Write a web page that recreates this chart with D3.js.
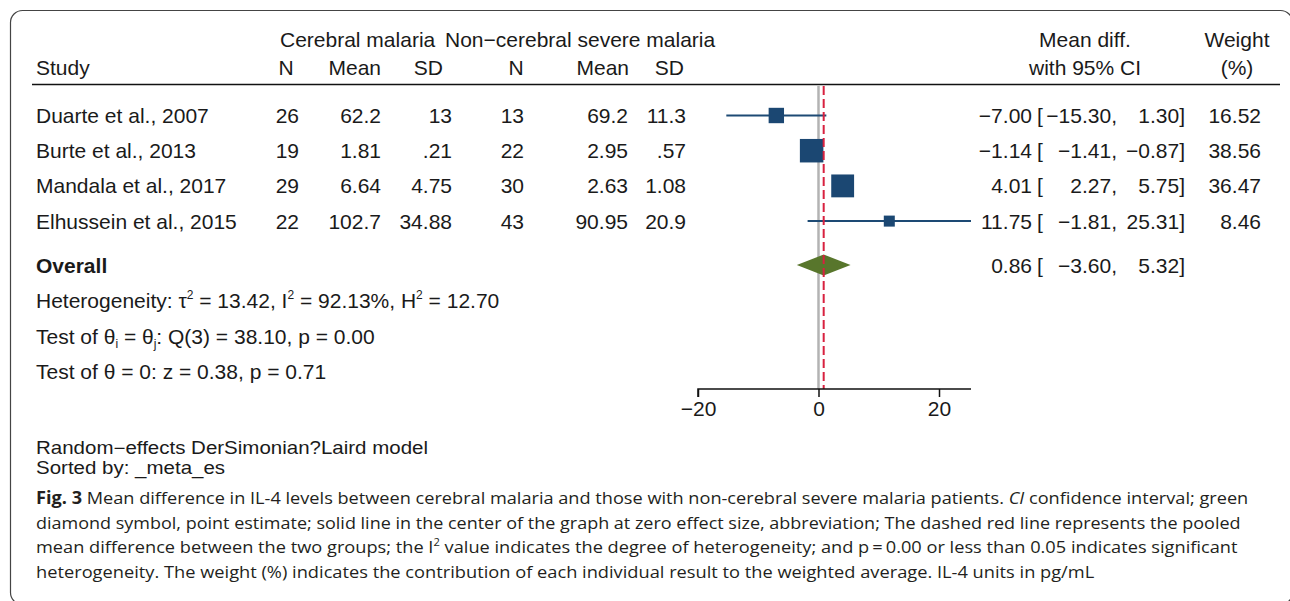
<!DOCTYPE html>
<html>
<head>
<meta charset="utf-8">
<script src="https://cdn.jsdelivr.net/npm/d3@7"></script>
<style>
  body { margin: 0; background: #fff; }
  svg text { font-family: "Liberation Sans", Arial, sans-serif; fill: #1a1a1a; }
  svg text.cap { font-family: "Open Sans", "Noto Sans", sans-serif; fill: #231f20; }
</style>
</head>
<body>
<svg id="chart" width="1290" height="601"></svg>
<script>
// ---- data ----
const studies = ["Duarte et al., 2007", "Burte et al., 2013", "Mandala et al., 2017", "Elhussein et al., 2015"];
const cmN = ["26", "19", "29", "22"];
const cmMean = ["62.2", "1.81", "6.64", "102.7"];
const cmSD = ["13", ".21", "4.75", "34.88"];
const ncN = ["13", "22", "30", "43"];
const ncMean = ["69.2", "2.95", "2.63", "90.95"];
const ncSD = ["11.3", ".57", "1.08", "20.9"];
const meanDiff = [-7.00, -1.14, 4.01, 11.75];
const ciLow = [-15.30, -1.41, 2.27, -1.81];
const ciHigh = [1.30, -0.87, 5.75, 25.31];
const weights = [16.52, 38.56, 36.47, 8.46];
const overallDiff = 0.86;
const overallLow = -3.60;
const overallHigh = 5.32;
const xTicks = [-20, 0, 20];

const svg = d3.select("#chart");
const fmt = d3.format(".2f");
const num = v => fmt(v).replace("-", "\u2212");

// frame
svg.append("rect")
  .attr("x", 10.5).attr("y", 10.5)
  .attr("width", 1282).attr("height", 594)
  .attr("rx", 12)
  .attr("fill", "none").attr("stroke", "#444").attr("stroke-width", 1.2);

// scales
const x = d3.scaleLinear().domain([-20, 25.31]).range([698, 971]);
const rowY = d3.scaleLinear().domain([0, 1]).range([115.5, 150.7]);
const boxSize = d3.scaleSqrt().domain([0, 38.56]).range([0, 23.5]);
const axisY = 389;

function txt(g, xPos, yPos, s, anchor, weight) {
  return g.append("text")
    .attr("x", xPos).attr("y", yPos)
    .attr("font-size", 21)
    .attr("text-anchor", anchor || "start")
    .attr("font-weight", weight || "normal")
    .text(s);
}

// ---- header ----
const head = svg.append("g");
txt(head, 280, 47, "Cerebral malaria");
txt(head, 445, 47, "Non\u2212cerebral severe malaria");
txt(head, 1085, 47, "Mean diff.", "middle");
txt(head, 1237, 47, "Weight", "middle");
txt(head, 36, 75, "Study");
txt(head, 286, 75, "N", "middle");
txt(head, 381, 75, "Mean", "end");
txt(head, 443, 75, "SD", "end");
txt(head, 516, 75, "N", "middle");
txt(head, 629, 75, "Mean", "end");
txt(head, 684, 75, "SD", "end");
txt(head, 1085, 75, "with 95% CI", "middle");
txt(head, 1237, 75, "(%)", "middle");
head.append("line")
  .attr("x1", 32).attr("x2", 1280).attr("y1", 84.5).attr("y2", 84.5)
  .attr("stroke", "#111").attr("stroke-width", 1.6);

// ---- study rows ----
const rows = svg.append("g");
studies.forEach((s, i) => {
  const by = rowY(i) + 7.5;
  txt(rows, 36, by, s);
  txt(rows, 299, by, cmN[i], "end");
  txt(rows, 381, by, cmMean[i], "end");
  txt(rows, 452, by, cmSD[i], "end");
  txt(rows, 524, by, ncN[i], "end");
  txt(rows, 628, by, ncMean[i], "end");
  txt(rows, 686, by, ncSD[i], "end");
  txt(rows, 1032, by, num(meanDiff[i]), "end");
  txt(rows, 1037, by, "[");
  txt(rows, 1117, by, num(ciLow[i]) + ",", "end");
  txt(rows, 1185, by, num(ciHigh[i]) + "]", "end");
  txt(rows, 1261, by, fmt(weights[i]), "end");
});

// overall row
const oy = rowY(4.25);
txt(rows, 36, oy + 7.5, "Overall", "start", "bold");
txt(rows, 1032, oy + 7.5, num(overallDiff), "end");
txt(rows, 1037, oy + 7.5, "[");
txt(rows, 1117, oy + 7.5, num(overallLow) + ",", "end");
txt(rows, 1185, oy + 7.5, num(overallHigh) + "]", "end");

// heterogeneity lines
function statLine(yPos, parts) {
  const t = svg.append("text").attr("x", 36).attr("y", yPos).attr("font-size", 21);
  parts.forEach(p => {
    const ts = t.append("tspan").text(p[0]);
    if (p[1] === "sup") ts.attr("font-size", 12).attr("dy", -9);
    if (p[1] === "sub") ts.attr("font-size", 12).attr("dy", 4);
    if (p[2]) ts.attr("dy", p[2]);
  });
}
statLine(rowY(5.25) + 7.5, [
  ["Heterogeneity: \u03c4"], ["2", "sup"], [" = 13.42, I", null, 9], ["2", "sup"],
  [" = 92.13%, H", null, 9], ["2", "sup"], [" = 12.70", null, 9]
]);
statLine(rowY(6.27) + 7.5, [
  ["Test of \u03b8"], ["i", "sub"], [" = \u03b8", null, -4], ["j", "sub"],
  [": Q(3) = 38.10, p = 0.00", null, -4]
]);
statLine(rowY(7.27) + 7.5, [["Test of \u03b8 = 0: z = 0.38, p = 0.71"]]);

// ---- plot ----
const plot = svg.append("g");
plot.append("line")
  .attr("x1", x(0)).attr("x2", x(0)).attr("y1", 86).attr("y2", axisY)
  .attr("stroke", "#b3b3b3").attr("stroke-width", 2.5);

plot.selectAll("line.ci").data(meanDiff).join("line")
  .attr("class", "ci")
  .attr("x1", (d, i) => x(ciLow[i])).attr("x2", (d, i) => x(ciHigh[i]))
  .attr("y1", (d, i) => rowY(i)).attr("y2", (d, i) => rowY(i))
  .attr("stroke", "#1d4a74").attr("stroke-width", 2);

plot.selectAll("rect.box").data(meanDiff).join("rect")
  .attr("class", "box")
  .attr("x", (d, i) => x(d) - boxSize(weights[i]) / 2)
  .attr("y", (d, i) => rowY(i) - boxSize(weights[i]) / 2)
  .attr("width", (d, i) => boxSize(weights[i]))
  .attr("height", (d, i) => boxSize(weights[i]))
  .attr("fill", "#1b4772");

plot.append("path")
  .attr("d", d3.line()([[x(overallLow), oy], [x(overallDiff), oy - 10.5], [x(overallHigh), oy], [x(overallDiff), oy + 10.5]]) + "Z")
  .attr("fill", "#58762c");

plot.append("line")
  .attr("x1", x(overallDiff)).attr("x2", x(overallDiff)).attr("y1", 86).attr("y2", axisY)
  .attr("stroke", "#d8213f").attr("stroke-width", 2).attr("stroke-dasharray", "9,4");

const axis = d3.axisBottom(x).tickValues(xTicks).tickSize(8).tickPadding(4)
  .tickFormat(d => String(d).replace("-", "\u2212"));
const ax = svg.append("g").attr("transform", `translate(0,${axisY})`).call(axis);
ax.select(".domain").attr("stroke", "#111").attr("stroke-width", 1.5)
  .attr("d", `M${x.range()[0]},8V0H${x.range()[1]}`);
ax.selectAll(".tick line").attr("stroke", "#111").attr("stroke-width", 1.5);
ax.selectAll(".tick text").attr("font-size", 21).attr("font-family", "Liberation Sans, Arial, sans-serif").attr("fill", "#1a1a1a");

// ---- notes (tight line spacing, squeezed vertically like the original) ----
[["Random\u2212effects DerSimonian?Laird model", 454], ["Sorted by: _meta_es", 474]].forEach(n => {
  svg.append("text")
    .attr("font-size", 20.5)
    .attr("transform", `translate(36,${n[1]}) scale(1,0.86)`)
    .text(n[0]);
});

// ---- caption ----
const capLines = [
  { y: 504, end: 1249, parts: [["Fig. 3", "b"], ["  Mean difference in IL-4 levels between cerebral malaria and those with non-cerebral severe malaria patients. "], ["CI", "i"], [" confidence interval; green"]] },
  { y: 528.5, end: 1241, parts: [["diamond symbol, point estimate; solid line in the center of the graph at zero effect size, abbreviation; The dashed red line represents the pooled"]] },
  { y: 553, end: 1238, parts: [["mean difference between the two groups; the I"], ["2", "sup"], [" value indicates the degree of heterogeneity; and p\u2009=\u20090.00 or less than 0.05 indicates significant", "up"]] },
  { y: 577.5, end: 1095, parts: [["heterogeneity. The weight (%) indicates the contribution of each individual result to the weighted average. IL-4 units in pg/mL"]] }
];
capLines.forEach(l => {
  const t = svg.append("text").attr("class", "cap").attr("font-size", 19.5)
    .attr("transform", `translate(36,${l.y})`);
  l.parts.forEach(p => {
    const ts = t.append("tspan").text(p[0]);
    if (p[1] === "b") ts.attr("font-weight", "bold");
    if (p[1] === "i") ts.attr("font-style", "italic");
    if (p[1] === "sup") ts.attr("font-size", 12).attr("dy", -8);
    if (p[1] === "up") ts.attr("dy", 8);
  });
  const w = t.node().getComputedTextLength();
  t.attr("transform", `translate(36,${l.y}) scale(${(l.end - 36) / w},0.88)`);
});
</script>
</body>
</html>
